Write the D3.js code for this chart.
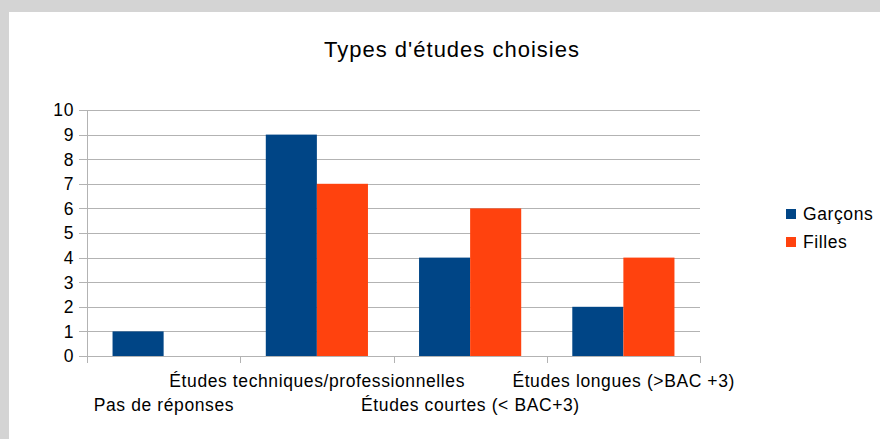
<!DOCTYPE html>
<html><head><meta charset="utf-8">
<script src="https://cdn.jsdelivr.net/npm/d3@7"></script>
<style>body{margin:0;}svg{display:block;font-family:"Liberation Sans",Arial,sans-serif;}</style>
</head><body>
<script>
const categories = ["Pas de réponses", "Études techniques/professionnelles", "Études courtes (< BAC+3)", "Études longues (>BAC +3)"];
const seriesNames = ["Garçons", "Filles"];
const garcons = [1, 9, 4, 2];
const filles = [0, 7, 6, 4];
const yTicks = [0,1,2,3,4,5,6,7,8,9,10];
const colors = ["#004586", "#ff420e"];
const title = "Types d'études choisies";

(function(){
const W = 880, H = 439;
const svg = d3.select("body").append("svg").attr("width", W).attr("height", H);
svg.append("rect").attr("width", W).attr("height", H).attr("fill", "#d4d4d4");
svg.append("rect").attr("x", 9).attr("y", 12).attr("width", W-9).attr("height", H-12).attr("fill", "#fff");

const pL = 87, pR = 700, pT = 110, pB = 356;
const x = d3.scaleBand().domain(categories).range([pL, pR]).paddingInner(0).paddingOuter(0);
const x1 = d3.scaleBand().domain(seriesNames).range([0, x.bandwidth()]).paddingInner(0).paddingOuter(0.5);
const y = d3.scaleLinear().domain([0, 10]).range([pB, pT]);
const FS = 17.5, LS = 0.6;

// gridlines
svg.append("g").selectAll("line").data(yTicks).join("line")
  .attr("x1", pL - 8).attr("x2", pR)
  .attr("y1", d => Math.round(y(d)) + 0.5).attr("y2", d => Math.round(y(d)) + 0.5)
  .attr("stroke", "#b3b3b3").attr("stroke-width", 1);

// y labels
svg.append("g").selectAll("text").data(yTicks).join("text")
  .attr("x", 74).attr("y", d => y(d)).attr("dy", "0.36em")
  .attr("text-anchor", "end").attr("font-size", FS).attr("fill", "#000")
  .attr("letter-spacing", LS)
  .text(d => d);

// bars
const data = categories.map((c, i) => ({c, vals: [garcons[i], filles[i]]}));
const g = svg.append("g");
data.forEach(d => {
  d.vals.forEach((v, j) => {
    if (v > 0) g.append("rect")
      .attr("x", x(d.c) + x1(seriesNames[j]))
      .attr("width", x1.bandwidth())
      .attr("y", y(v)).attr("height", y(0) - y(v))
      .attr("fill", colors[j]);
  });
});

// axes lines
svg.append("line").attr("x1", pL + 0.5).attr("x2", pL + 0.5).attr("y1", pT).attr("y2", pB + 7).attr("stroke", "#b3b3b3");
svg.append("line").attr("x1", pL).attr("x2", pR).attr("y1", Math.round(y(0)) + 0.5).attr("y2", Math.round(y(0)) + 0.5).attr("stroke", "#b3b3b3");
const bounds = categories.map(c => x(c)).concat([pR]);
svg.append("g").selectAll("line").data(bounds).join("line")
  .attr("x1", d => Math.round(d) + 0.5).attr("x2", d => Math.round(d) + 0.5)
  .attr("y1", pB).attr("y2", pB + 7).attr("stroke", "#b3b3b3");

// x labels staggered
svg.append("g").selectAll("text").data(categories).join("text")
  .attr("x", d => x(d) + x.bandwidth() / 2 + LS / 2)
  .attr("y", (d, i) => i % 2 === 0 ? 411 : 387)
  .attr("text-anchor", "middle").attr("font-size", FS).attr("fill", "#000")
  .attr("letter-spacing", LS)
  .text(d => d);

// title
svg.append("text").attr("x", 452).attr("y", 57).attr("text-anchor", "middle")
  .attr("font-size", 22).attr("letter-spacing", 1).attr("fill", "#000").text(title);

// legend
const lg = svg.append("g");
seriesNames.forEach((s, i) => {
  lg.append("rect").attr("x", 786).attr("y", 209 + i * 28).attr("width", 10).attr("height", 10).attr("fill", colors[i]);
  lg.append("text").attr("x", 803).attr("y", 214 + i * 28).attr("dy", "0.36em").attr("font-size", FS)
    .attr("letter-spacing", LS).attr("fill", "#000").text(s);
});
})();
</script>
</body></html>
